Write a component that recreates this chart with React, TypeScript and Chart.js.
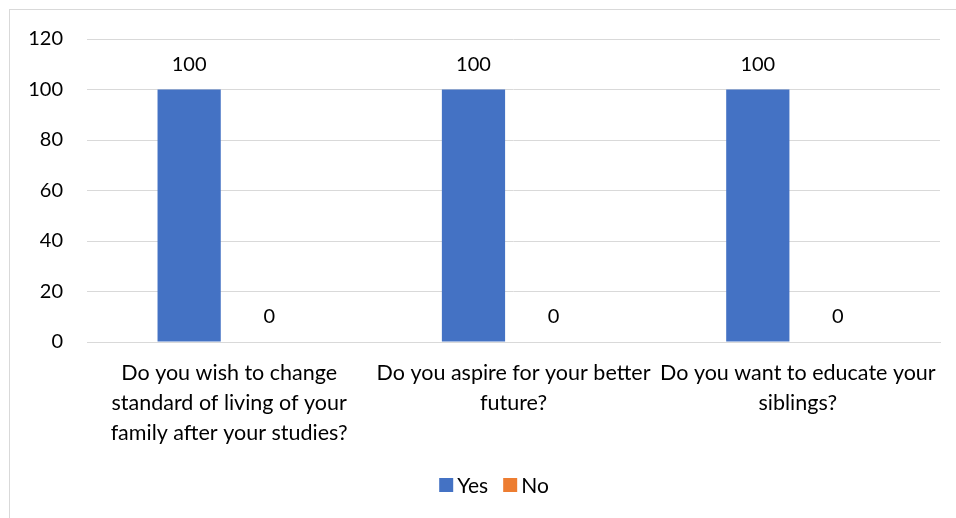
import React, { useEffect, useRef } from "react";
import { Chart, registerables } from "chart.js";

Chart.register(...registerables);

const categories: string[][] = [
  ["Do you wish to change", "standard of living of your", "family after your studies?"],
  ["Do you aspire for your better", "future?"],
  ["Do you want to educate your", "siblings?"],
];
const seriesNames = ["Yes", "No"];
const yesValues = [100, 100, 100];
const noValues = [0, 0, 0];
const yMin = 0;
const yMax = 120;
const yStep = 20;

const seriesColors = ["#4472C4", "#ED7D31"];
const FONT = "Lato, 'Noto Sans', sans-serif";
const TEXT = "#000000";
const GRID = "#D9D9D9";
const FS = 20;

const dataLabelPlugin = {
  id: "dataLabels",
  afterDatasetsDraw(chart: any) {
    const ctx = chart.ctx;
    ctx.save();
    ctx.font = `${FS}px ${FONT}`;
    ctx.fillStyle = TEXT;
    ctx.textAlign = "center";
    ctx.textBaseline = "middle";
    chart.data.datasets.forEach((ds: any, i: number) => {
      const meta = chart.getDatasetMeta(i);
      meta.data.forEach((el: any, j: number) => {
        ctx.fillText(String(ds.data[j]), el.x, el.y - 25);
      });
    });
    ctx.restore();
  },
};

const legendPlugin = {
  id: "customLegend",
  afterDraw(chart: any) {
    const ctx = chart.ctx;
    ctx.save();
    ctx.font = `${FS + 1}px ${FONT}`;
    const box = 14;
    const gapText = 4;
    const gapItem = 15;
    const items = chart.data.datasets.map((ds: any) => ({
      label: ds.label,
      color: ds.backgroundColor,
      w: box + gapText + ctx.measureText(ds.label).width,
    }));
    const total = items.reduce((s: number, it: any) => s + it.w, 0) + gapItem * (items.length - 1);
    let x = 494 - total / 2;
    const y = chart.height - 33;
    items.forEach((it: any) => {
      ctx.fillStyle = it.color;
      ctx.fillRect(x, y - box / 2, box, box);
      ctx.fillStyle = TEXT;
      ctx.textAlign = "left";
      ctx.textBaseline = "middle";
      ctx.fillText(it.label, x + box + gapText, y + 1);
      x += it.w + gapItem;
    });
    ctx.restore();
  },
};

export default function App() {
  const ref = useRef<HTMLCanvasElement | null>(null);

  useEffect(() => {
    document.body.style.overflow = "hidden";
    document.body.style.background = "#ffffff";
    const canvas = ref.current!;
    const chart = new Chart(canvas, {
      type: "bar",
      data: {
        labels: categories,
        datasets: [
          {
            label: seriesNames[0],
            data: yesValues,
            backgroundColor: seriesColors[0],
            categoryPercentage: 0.563,
            barPercentage: 0.79,
          },
          {
            label: seriesNames[1],
            data: noValues,
            backgroundColor: seriesColors[1],
            categoryPercentage: 0.563,
            barPercentage: 0.79,
          },
        ],
      },
      options: {
        responsive: false,
        animation: false,
        events: [],
        layout: { padding: { top: 39, right: 16, bottom: 66, left: 0 } },
        plugins: {
          legend: { display: false },
          tooltip: { enabled: false },
        },
        scales: {
          x: {
            grid: { display: false, drawTicks: false },
            border: { display: true, color: GRID, width: 1 },
            ticks: {
              color: TEXT,
              font: { family: FONT, size: 21.5, lineHeight: "30px" },
              padding: 16,
              maxRotation: 0,
              minRotation: 0,
              autoSkip: false,
            },
            afterFit: (scale: any) => {
              scale.height = 110;
            },
          },
          y: {
            min: yMin,
            max: yMax,
            grid: { color: GRID, lineWidth: 1, drawTicks: false },
            border: { display: false },
            ticks: {
              stepSize: yStep,
              color: TEXT,
              font: { family: FONT, size: FS },
              padding: 24,
            },
            afterFit: (scale: any) => {
              scale.width = 87;
            },
          },
        },
      },
      plugins: [dataLabelPlugin, legendPlugin],
    });
    return () => chart.destroy();
  }, []);

  return (
    <>
      <div
        style={{
          position: "fixed",
          left: 9,
          top: 9,
          width: 1000,
          height: 600,
          border: "1px solid #D9D9D9",
          boxSizing: "border-box",
        }}
      />
      <div style={{ position: "fixed", left: 0, top: 0, width: 956, height: 518 }}>
        <canvas ref={ref} width={956} height={518} style={{ width: 956, height: 518, display: "block" }} />
      </div>
    </>
  );
}
